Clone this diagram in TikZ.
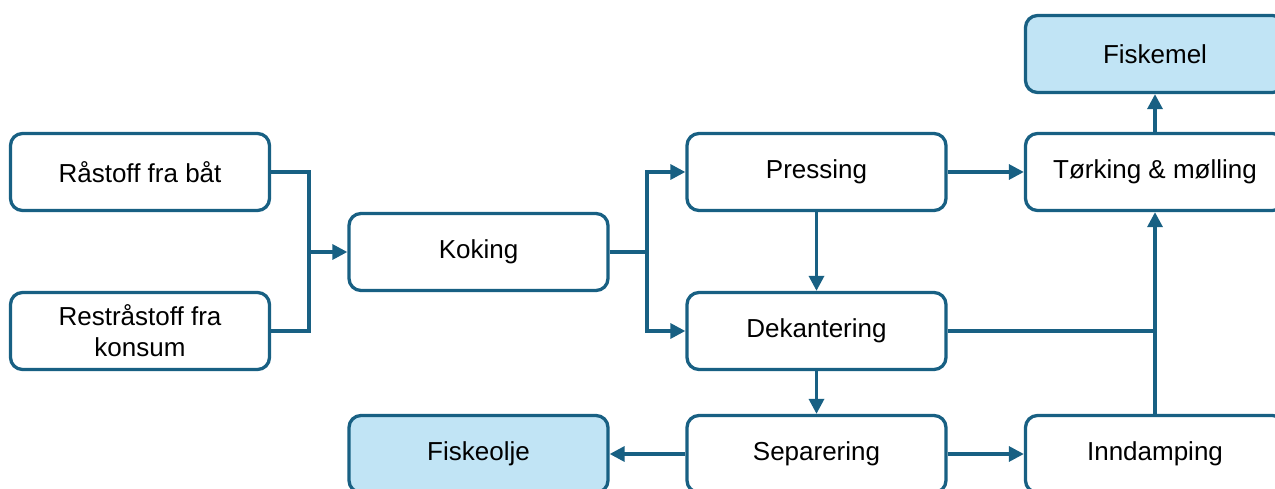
\documentclass[tikz,border=0pt]{standalone}
\usepackage{fontspec}
\setmainfont{Liberation Sans}
\usetikzlibrary{arrows.meta}
\definecolor{rammeblaa}{RGB}{24,96,131}
\definecolor{lysblaa}{RGB}{193,228,245}
\begin{document}
\begin{tikzpicture}[x=1pt, y=-1pt,
		trinn/.style={draw=rammeblaa, line width=3.3pt, rounded corners=12pt, fill=white, minimum width=259pt, minimum height=77pt, inner sep=0pt, align=center, font=\fontsize{26}{31}\selectfont},
		produkt/.style={trinn, fill=lysblaa},
		flyt/.style={draw=rammeblaa, line width=3.3pt},
		pil/.style={flyt, -{Triangle[length=15pt, width=15pt]}}]
		\useasboundingbox (0,0) rectangle (1275,489);

		\node(raa)[trinn] at (140,172){Råstoff fra båt};
		\node(rest)[trinn] at (140,331){Restråstoff fra\\konsum};
		\node(koking)[trinn] at (478.5,252){Koking};
		\node(pressing)[trinn] at (816.5,172){Pressing};
		\node(dekant)[trinn] at (816.5,331){Dekantering};
		\node(separ)[trinn] at (816.5,454){Separering};
		\node(olje)[produkt] at (478.5,454){Fiskeolje};
		\node(inndamp)[trinn] at (1155,454){Inndamping};
		\node(torking)[trinn] at (1155,172){Tørking \& mølling};
		\node(mel)[produkt] at (1155,54){Fiskemel};

		\coordinate(samle) at (309,252);
		\coordinate(dele) at (647,252);
		\coordinate(moete) at (dekant.east -| inndamp.north);

		\draw[flyt] (raa.east) -| (samle);
		\draw[flyt] (rest.east) -| (samle);
		\draw[pil] (samle) -- (koking.west);
		\draw[flyt] (koking.east) -- (dele);
		\draw[pil] (dele) |- (pressing.west);
		\draw[pil] (dele) |- (dekant.west);
		\draw[pil] (pressing) -- (dekant);
		\draw[pil] (pressing) -- (torking);
		\draw[pil] (torking) -- (mel);
		\draw[pil] (dekant) -- (separ);
		\draw[pil] (separ) -- (olje);
		\draw[pil] (separ) -- (inndamp);
		\draw[pil] (inndamp) -- (torking);
		\draw[flyt] (dekant.east) -- (moete);
	\end{tikzpicture}
\end{document}
